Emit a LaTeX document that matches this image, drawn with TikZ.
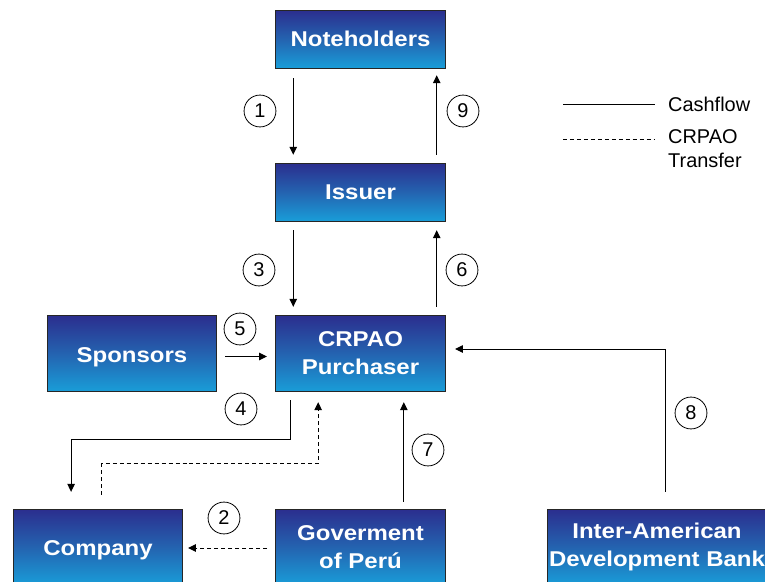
\documentclass[tikz,border=0pt]{standalone}
\usepackage{fontspec}
\setmainfont{Liberation Sans}
\newfontfamily\boxfont[FakeStretch=1.12]{Liberation Sans}
\usetikzlibrary{arrows.meta}

\definecolor{boxtop}{HTML}{2B2E8E}
\definecolor{boxmid}{HTML}{2463B0}
\definecolor{boxbot}{HTML}{199DD8}

% lower a one-line label without changing its reported size
\newcommand{\lowered}[1]{\raisebox{-3.5pt}[\height][\depth]{#1}}

\tikzset{
  party/.style={draw=black!85, line width=0.7pt, rectangle,
    top color=boxtop, bottom color=boxbot, middle color=boxmid,
    text=white, align=center, inner sep=0pt,
    font=\boxfont\bfseries\fontsize{21.5}{28}\selectfont},
  stepno/.style={draw, circle, line width=0.8pt, minimum size=32pt, inner sep=0pt,
    font=\fontsize{20}{24}\selectfont},
  tipstyle/.tip={Triangle[length=8pt,width=7.5pt]},
  flow/.style={line width=1pt, -tipstyle},
  transfer/.style={line width=1pt, dash pattern=on 4pt off 3pt, -tipstyle},
  legendline/.style={line width=0.9pt},
  legendtext/.style={font=\fontsize{20}{24}\selectfont, align=left, inner sep=0pt}
}

\begin{document}
\begin{tikzpicture}[x=1bp, y=-1bp]
  \useasboundingbox (0,0) rectangle (765,582);
  \clip (0,0) rectangle (765,582);

  % parties
  \node[party, minimum width=170pt, minimum height=58pt] (note) at (360.5,39) {Noteholders};
  \node[party, minimum width=170pt, minimum height=58pt] (iss)  at (360.5,192) {Issuer};
  \node[party, minimum width=170pt, minimum height=76pt] (cr)   at (360.5,353.5) {CRPAO\\Purchaser};
  \node[party, minimum width=170pt, minimum height=76pt] (sp)   at (132,353.5) {\lowered{Sponsors}};
  \node[party, minimum width=170pt, minimum height=76pt] (co)   at (98,547) {\lowered{Company}};
  \node[party, minimum width=170pt, minimum height=76pt] (gov)  at (360.5,547) {Goverment\\of Perú};
  \node[party, minimum width=220pt, minimum height=76pt] (iadb) at (657,547) {Inter-American\\Development Bank};

  % cash flows
  \draw[flow, shorten <=10pt, shorten >=8pt] ([xshift=-67.5pt]note.south) -- ([xshift=-67.5pt]iss.north);
  \draw[flow, shorten <=8pt, shorten >=7pt] ([xshift=76.5pt]iss.north) -- ([xshift=76.5pt]note.south);
  \draw[flow, shorten <=9pt, shorten >=8.5pt] ([xshift=-67.5pt]iss.south) -- ([xshift=-67.5pt]cr.north);
  \draw[flow, shorten <=8.5pt, shorten >=9pt] ([xshift=76.5pt]cr.north) -- ([xshift=76.5pt]iss.south);
  \draw[flow, shorten <=8pt, shorten >=8.5pt] ([yshift=-3pt]sp.east) -- ([yshift=-3pt]cr.west);
  \draw[flow, shorten <=8.5pt, shorten >=17pt] ([xshift=-70.5pt]cr.south) -- ++(0,47.5) -| ([xshift=-27pt]co.north);
  \draw[flow, shorten <=7pt, shorten >=10.5pt] ([xshift=43.5pt]gov.north) -- ([xshift=43.5pt]cr.south);
  \draw[flow, shorten <=17pt, shorten >=9.5pt] ([xshift=9pt]iadb.north) |- ([yshift=4.5pt]cr.east);

  % CRPAO transfers
  \draw[transfer, shorten <=14pt, shorten >=10.5pt] ([xshift=4pt]co.north) -- ++(0,-45) -| ([xshift=-42.5pt]cr.south);
  \draw[transfer, shorten <=8.5pt, shorten >=5pt] ([yshift=-1pt]gov.west) -- ([yshift=-1pt]co.east);

  % step numbers
  \node[stepno] (s1) at (260,111) {1};
  \node[stepno] (s9) at (463,111) {9};
  \node[stepno] (s3) at (259,270) {3};
  \node[stepno] (s6) at (462,270) {6};
  \node[stepno] (s5) at (240,329) {5};
  \node[stepno] (s4) at (241,409) {4};
  \node[stepno] (s7) at (428,450) {7};
  \node[stepno] (s2) at (224,518) {2};
  \node[stepno] (s8) at (691,413) {8};

  % legend
  \coordinate (la1) at (563,104);
  \coordinate (lb1) at (655,104);
  \coordinate (la2) at (563,139);
  \coordinate (lb2) at (655,139);
  \draw[legendline] (la1) -- (lb1);
  \draw[legendline, dash pattern=on 4pt off 3pt] (la2) -- (lb2);
  \node[legendtext, anchor=west] (lt1) at (668,104) {Cashflow};
  \node[legendtext, anchor=north west] (lt2) at (668,129) {CRPAO\\Transfer};
\end{tikzpicture}
\end{document}
